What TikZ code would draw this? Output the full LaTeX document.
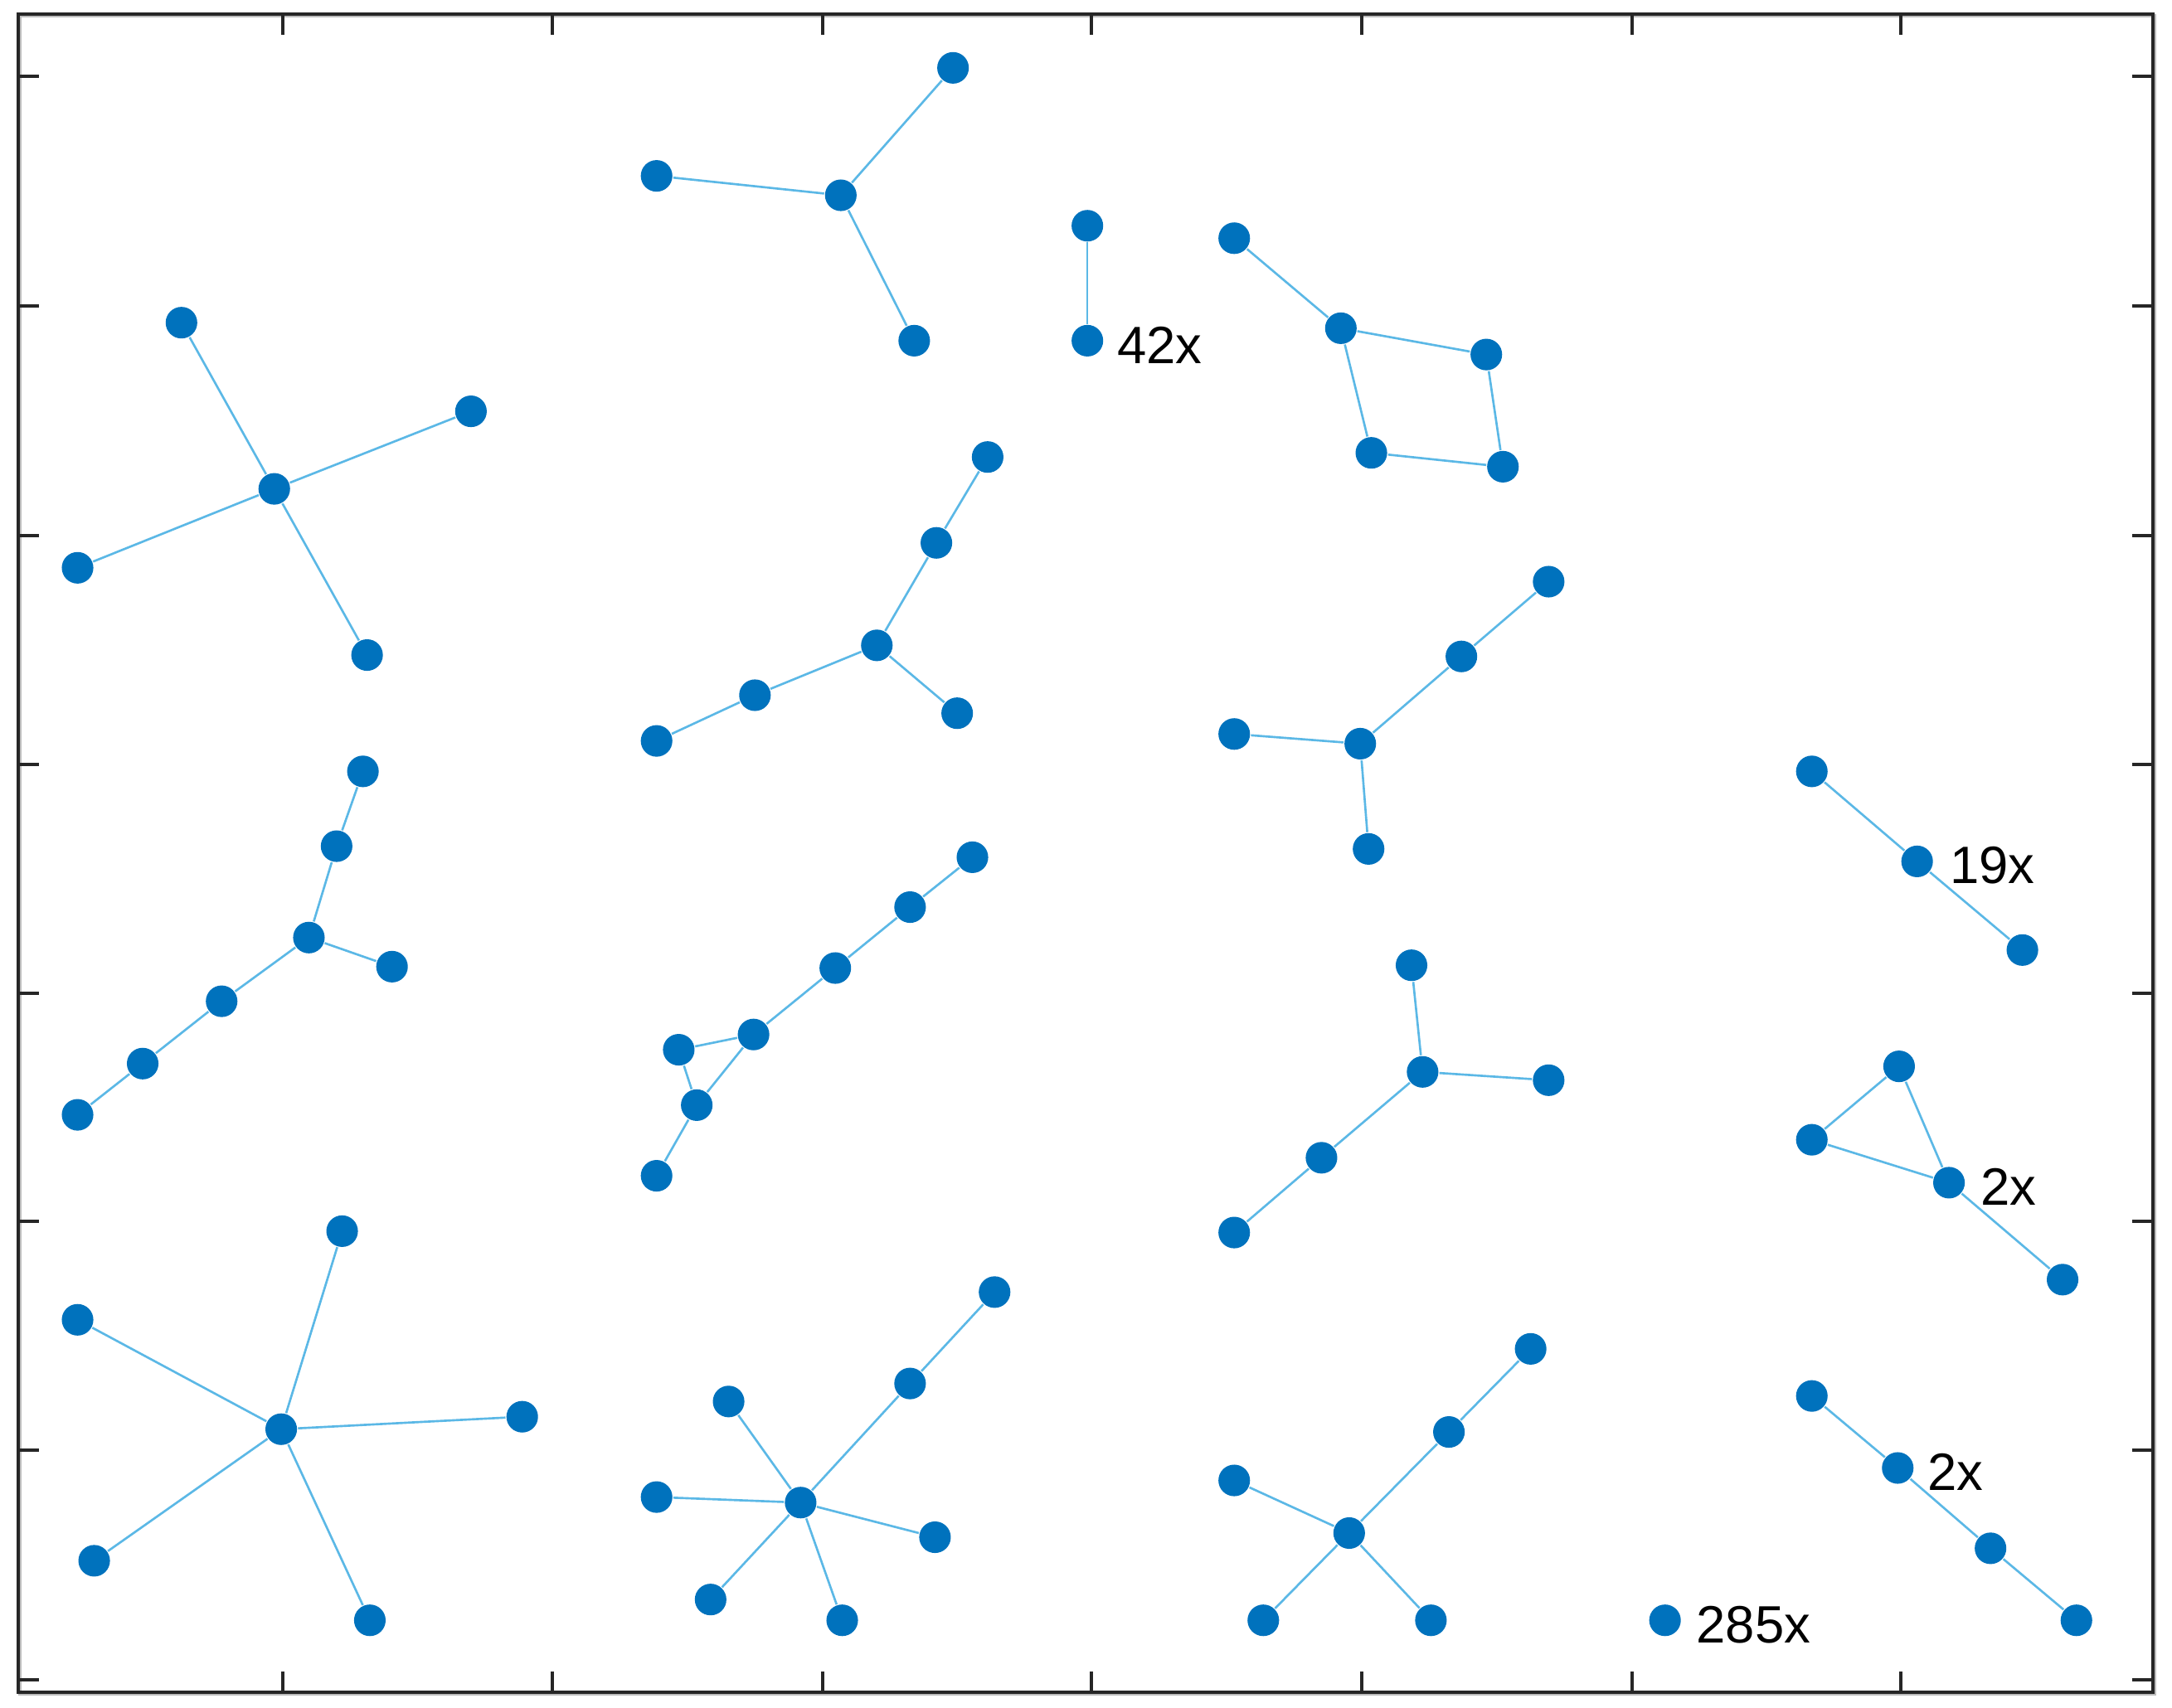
\documentclass[tikz,border=0pt]{standalone}
\usepackage{fontspec}
\setmainfont{Liberation Sans}
\definecolor{nodeblue}{HTML}{0072BD}
\definecolor{edgeblue}{HTML}{5BB8E6}
\definecolor{axisgray}{HTML}{262626}
\definecolor{shadowgray}{HTML}{BDBDBD}
\begin{document}
\begin{tikzpicture}[x=0.01cm,y=-0.01cm,
  dot/.style={circle,fill=nodeblue,draw=none,inner sep=0pt,minimum size=0.228cm},
  edge/.style={draw=edgeblue,line width=0.45pt},
  frame/.style={draw=axisgray,line width=0.7pt},
  shadowline/.style={draw=shadowgray,line width=0.7pt},
  lab/.style={anchor=west,inner sep=0pt,font=\fontsize{10.8}{13}\selectfont}]
\useasboundingbox (0,0) rectangle (1568,1233);
\fill[white] (0,0) rectangle (1568,1233);
% axes frame
\draw[shadowline] (14.3,11.3) rectangle (1555.3,1223.3);
\draw[frame] (13,10) rectangle (1554,1222);
\foreach \tx in {204,399,594,788,983,1178,1372}{
  \draw[frame] (\tx,10) -- (\tx,25);
  \draw[frame] (\tx,1222) -- (\tx,1207);
}
\foreach \ty in {55,221,387,552,717,882,1047,1213}{
  \draw[frame] (13,\ty) -- (28,\ty);
  \draw[frame] (1554,\ty) -- (1539,\ty);
}
% cluster A
\node[dot] (A1) at (131,233) {};
\node[dot] (A2) at (340,297) {};
\node[dot] (A3) at (198,353) {};
\node[dot] (A4) at (56,410) {};
\node[dot] (A5) at (265,473) {};
\draw[edge] (A1)--(A3) (A2)--(A3) (A3)--(A4) (A3)--(A5);
% cluster B
\node[dot] (B1) at (688,49) {};
\node[dot] (B2) at (474,127) {};
\node[dot] (B3) at (607,141) {};
\node[dot] (B4) at (660,246) {};
\draw[edge] (B2)--(B3) (B3)--(B1) (B3)--(B4);
% cluster C (42x)
\node[dot] (C1) at (785,163) {};
\node[dot] (C2) at (785,246) {};
\draw[edge] (C1)--(C2);
\node[lab] (tC) at ([xshift=0.21cm,yshift=-0.03cm]C2.center) {42x};
% cluster D
\node[dot] (D1) at (891,172) {};
\node[dot] (D2) at (968,237) {};
\node[dot] (D3) at (1073,256) {};
\node[dot] (D4) at (990,327) {};
\node[dot] (D5) at (1085,337) {};
\draw[edge] (D1)--(D2) (D2)--(D3) (D2)--(D4) (D3)--(D5) (D4)--(D5);
% cluster E
\node[dot] (E1) at (713,330) {};
\node[dot] (E2) at (676,392) {};
\node[dot] (E3) at (633,466) {};
\node[dot] (E4) at (545,502) {};
\node[dot] (E5) at (474,535) {};
\node[dot] (E6) at (691,515) {};
\draw[edge] (E1)--(E2) (E2)--(E3) (E3)--(E4) (E4)--(E5) (E3)--(E6);
% cluster F
\node[dot] (F1) at (1118,420) {};
\node[dot] (F2) at (1055,474) {};
\node[dot] (F3) at (982,537) {};
\node[dot] (F4) at (891,530) {};
\node[dot] (F5) at (988,613) {};
\draw[edge] (F1)--(F2) (F2)--(F3) (F3)--(F4) (F3)--(F5);
% cluster G
\node[dot] (G1) at (262,557) {};
\node[dot] (G2) at (243,611) {};
\node[dot] (G3) at (223,677) {};
\node[dot] (G4) at (283,698) {};
\node[dot] (G5) at (160,723) {};
\node[dot] (G6) at (103,768) {};
\node[dot] (G7) at (56,805) {};
\draw[edge] (G1)--(G2) (G2)--(G3) (G3)--(G4) (G3)--(G5) (G5)--(G6) (G6)--(G7);
% cluster H
\node[dot] (H1) at (702,619) {};
\node[dot] (H2) at (657,655) {};
\node[dot] (H3) at (603,699) {};
\node[dot] (H4) at (544,747) {};
\node[dot] (H5) at (490,758) {};
\node[dot] (H6) at (503,798) {};
\node[dot] (H7) at (474,849) {};
\draw[edge] (H1)--(H2) (H2)--(H3) (H3)--(H4) (H4)--(H5) (H4)--(H6) (H5)--(H6) (H6)--(H7);
% cluster I (19x)
\node[dot] (I1) at (1308,557) {};
\node[dot] (I2) at (1384,622) {};
\node[dot] (I3) at (1460,686) {};
\draw[edge] (I1)--(I2) (I2)--(I3);
\node[lab] (tI) at ([xshift=0.23cm,yshift=-0.03cm]I2.center) {19x};
% cluster J
\node[dot] (J1) at (1019,697) {};
\node[dot] (J2) at (1027,774) {};
\node[dot] (J3) at (1118,780) {};
\node[dot] (J4) at (954,836) {};
\node[dot] (J5) at (891,890) {};
\draw[edge] (J1)--(J2) (J2)--(J3) (J2)--(J4) (J4)--(J5);
% cluster K (2x)
\node[dot] (K1) at (1371,770) {};
\node[dot] (K2) at (1308,823) {};
\node[dot] (K3) at (1407,854) {};
\node[dot] (K4) at (1489,924) {};
\draw[edge] (K1)--(K2) (K2)--(K3) (K1)--(K3) (K3)--(K4);
\node[lab] (tK) at ([xshift=0.22cm,yshift=-0.03cm]K3.center) {2x};
% cluster L
\node[dot] (L1) at (247,889) {};
\node[dot] (L2) at (56,953) {};
\node[dot] (L3) at (203,1032) {};
\node[dot] (L4) at (377,1023) {};
\node[dot] (L5) at (68,1127) {};
\node[dot] (L6) at (267,1170) {};
\draw[edge] (L3)--(L1) (L3)--(L2) (L3)--(L4) (L3)--(L5) (L3)--(L6);
% cluster M
\node[dot] (M1) at (718,933) {};
\node[dot] (M2) at (657,999) {};
\node[dot] (M3) at (526,1012) {};
\node[dot] (M4) at (578,1085) {};
\node[dot] (M5) at (474,1081) {};
\node[dot] (M6) at (675,1110) {};
\node[dot] (M7) at (513,1155) {};
\node[dot] (M8) at (608,1170) {};
\draw[edge] (M1)--(M2) (M2)--(M4) (M3)--(M4) (M5)--(M4) (M6)--(M4) (M7)--(M4) (M8)--(M4);
% cluster N
\node[dot] (N1) at (1105,974) {};
\node[dot] (N2) at (1046,1034) {};
\node[dot] (N3) at (891,1069) {};
\node[dot] (N4) at (974,1107) {};
\node[dot] (N5) at (912,1170) {};
\node[dot] (N6) at (1033,1170) {};
\draw[edge] (N1)--(N2) (N2)--(N4) (N3)--(N4) (N4)--(N5) (N4)--(N6);
% single node (285x)
\node[dot] (O1) at (1202,1170) {};
\node[lab] (tO) at ([xshift=0.22cm,yshift=-0.03cm]O1.center) {285x};
% cluster P (2x)
\node[dot] (P1) at (1308,1008) {};
\node[dot] (P2) at (1370,1060) {};
\node[dot] (P3) at (1437,1118) {};
\node[dot] (P4) at (1499,1170) {};
\draw[edge] (P1)--(P2) (P2)--(P3) (P3)--(P4);
\node[lab] (tP) at ([xshift=0.21cm,yshift=-0.03cm]P2.center) {2x};
\end{tikzpicture}
\end{document}
